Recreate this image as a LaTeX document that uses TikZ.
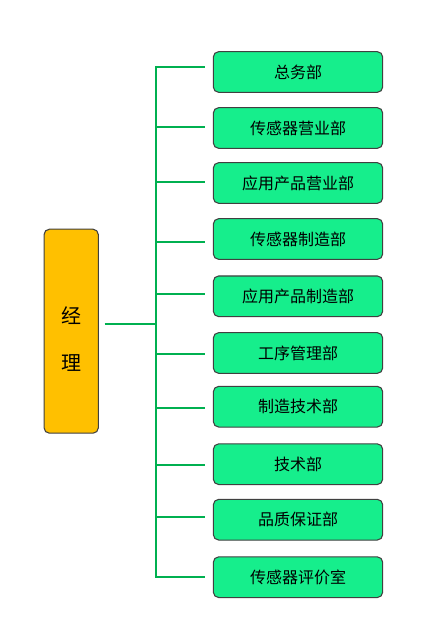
\documentclass[tikz,border=0pt]{standalone}
\usepackage{fontspec}
\setmainfont{Noto Sans CJK SC}
\usetikzlibrary{calc}
\definecolor{deptgreen}{HTML}{16EE8C}
\definecolor{linegreen}{HTML}{00B050}
\definecolor{mgrorange}{HTML}{FFC000}
\tikzset{%
        x = 0.75pt,
        y = -0.75pt
}
\tikzstyle{dept}=[
    draw = black!75,
    fill = deptgreen,
    rounded corners = 4pt,
    line width = 0.8pt,
    minimum width = 127pt,
    minimum height = 30.5pt,
    inner sep = 0pt,
    font = \fontsize{12pt}{14pt}\selectfont
]
\tikzstyle{mgr}=[
    draw = black!75,
    fill = mgrorange,
    rounded corners = 4pt,
    line width = 0.8pt,
    minimum width = 40.7pt,
    minimum height = 153pt,
    align = center,
    font = \fontsize{15pt}{35pt}\selectfont
]
\tikzstyle{branch}=[
    draw = linegreen,
    line width = 1.5pt
]

\begin{document}
\begin{tikzpicture}
        \useasboundingbox (0,0) rectangle (431,631);
        \node[mgr] (m) at (71.2,331.2) {\rule{0pt}{24pt}经\\理};
        % departments: name/text/box y/branch y
        \foreach \i/\txt/\y/\by in {
            1/总务部/72/66.7,
            2/传感器营业部/128/126.7,
            3/应用产品营业部/183/181.7,
            4/传感器制造部/239/241.7,
            5/应用产品制造部/296.3/294,
            6/工序管理部/353/354,
            7/制造技术部/406.7/408.3,
            8/技术部/464.2/465,
            9/品质保证部/519.7/516.7,
            10/传感器评价室/577.2/576.7}
        {
            \node[dept] (b\i) at (298,\y) {\txt};
            \coordinate (j\i) at (155.5,\by);
            \draw[branch, shorten >= 5.5pt] (j\i) -- (j\i -| b\i.west);
        }
        \coordinate (hub) at (155.5,324.3);
        \draw[branch, line cap=rect] (j1) -- (j10);
        \draw[branch, shorten < = 4.3pt] (hub -| m.east) -- (hub);
    \end{tikzpicture}
\end{document}
